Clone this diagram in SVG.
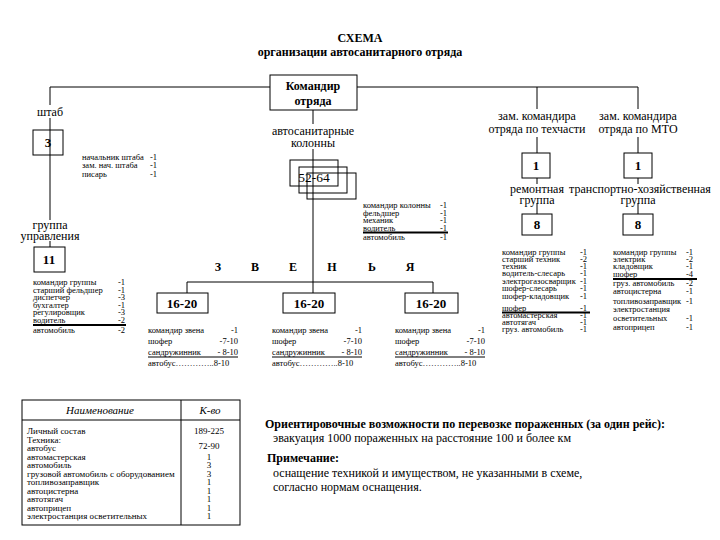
<svg xmlns="http://www.w3.org/2000/svg" width="720" height="540" viewBox="0 0 720 540" font-family="'Liberation Serif', 'DejaVu Serif', serif">
<style>
text{font-family:'Liberation Serif','DejaVu Serif',serif;fill:#000}
.b{font-weight:bold}
.h{font-size:12px}
.m{font-size:12px}
.s{font-size:8.5px}
.sv{font-size:8.5px;text-anchor:end}
.c{text-anchor:middle}
.n{font-size:13px;font-weight:bold;text-anchor:middle}
.box{fill:#fff;stroke:#000;stroke-width:1}
.ln{stroke:#000;stroke-width:1;fill:none}
.th{stroke:#000;stroke-width:2;fill:none}
.nt{font-size:12px}
</style>
<rect width="720" height="540" fill="#fff"/>
<g id="title">
<text x="360" y="42" class="b h c">СХЕМА</text>
<text x="360" y="56" class="b h c">организации автосанитарного отряда</text>
</g>
<g id="connectors">
<path class="ln" d="M50 87H270M357 87H638M50 87V105M537 87V109M638 87V109"/>
<path class="ln" d="M50 118V220M50 241V247"/>
<path class="ln" d="M313 110V124M313 149V282M187 282H433M187 282V293M313 282V293M433 282V293"/>
<path class="ln" d="M537 137V153M537 178V184M537 203V214M638 137V153M638 178V184M638 203V214"/>
</g>
<g id="commander">
<rect class="box" x="270" y="75" width="87" height="35"/>
<text x="313" y="90" class="b h c">Командир</text>
<text x="313" y="105" class="b h c">отряда</text>
</g>
<g id="staff">
<text x="50" y="116" class="m c">штаб</text>
<rect class="ln" x="33" y="130" width="30" height="25"/>
<text x="48" y="147" class="n">3</text>
<text x="82" y="160" class="s">начальник штаба</text><text x="157" y="160" class="sv">-1</text>
<text x="82" y="168" class="s">зам. нач. штаба</text><text x="157" y="168" class="sv">-1</text>
<text x="82" y="177" class="s">писарь</text><text x="157" y="177" class="sv">-1</text>
</g>
<g id="control-group">
<text x="50" y="229" class="m c">группа</text>
<text x="50" y="240" class="m c">управления</text>
<rect class="box" x="34" y="247" width="31" height="25"/>
<text x="49" y="264" class="n">11</text>
<text x="33" y="285" class="s">командир группы</text><text x="125" y="285" class="sv">-1</text>
<text x="33" y="292.5" class="s">старший фельдшер</text><text x="125" y="292.5" class="sv">-1</text>
<text x="33" y="300" class="s">диспетчер</text><text x="125" y="300" class="sv">-3</text>
<text x="33" y="307.5" class="s">бухгалтер</text><text x="125" y="307.5" class="sv">-1</text>
<text x="33" y="315" class="s">регулировщик</text><text x="125" y="315" class="sv">-3</text>
<text x="33" y="322.5" class="s">водитель</text><text x="125" y="322.5" class="sv">-2</text>
<line class="th" x1="33" y1="325" x2="126" y2="325"/>
<text x="33" y="333" class="s">автомобиль</text><text x="125" y="333" class="sv">-2</text>
</g>
<g id="columns">
<text x="313" y="135" class="m c">автосанитарные</text>
<text x="313" y="147" class="m c">колонны</text>
<rect class="ln" x="290" y="160" width="48" height="26"/>
<rect class="ln" x="299" y="167" width="48" height="26"/>
<rect class="ln" x="307" y="173" width="49" height="26"/>
<text x="314" y="182" font-size="13.5" class="c">52-64</text>
<text x="363" y="208" class="s">командир колонны</text><text x="447" y="208" class="sv">-1</text>
<text x="363" y="215.5" class="s">фельдшер</text><text x="447" y="215.5" class="sv">-1</text>
<text x="363" y="223" class="s">механик</text><text x="447" y="223" class="sv">-1</text>
<text x="363" y="230.5" class="s">водитель</text><text x="447" y="230.5" class="sv">-1</text>
<line class="th" x1="363" y1="232.5" x2="448" y2="232.5"/>
<text x="363" y="240" class="s">автомобиль</text><text x="447" y="240" class="sv">-1</text>
<g class="b h">
<text x="218" y="271" class="c">З</text><text x="255" y="271" class="c">В</text><text x="293" y="271" class="c">Е</text>
<text x="332" y="271" class="c">Н</text><text x="372" y="271" class="c">Ь</text><text x="410" y="271" class="c">Я</text>
</g>
</g>
<g id="link-1">
<rect class="box" x="157" y="293" width="51" height="20"/>
<text x="182" y="307.5" class="n">16-20</text>
<text x="148" y="333" class="s">командир звена</text><text x="238" y="333" class="sv">-1</text>
<text x="148" y="344" class="s">шофер</text><text x="238" y="344" class="sv">-7-10</text>
<text x="148" y="355" class="s">сандружинник</text><text x="238" y="355" class="sv">- 8-10</text>
<line class="ln" x1="148" y1="357" x2="238" y2="357"/>
<text x="148" y="366" class="s">автобус…………..8-10</text>
</g>
<g id="link-2">
<rect class="box" x="283" y="293" width="52" height="20"/>
<text x="309" y="307.5" class="n">16-20</text>
<text x="272" y="333" class="s">командир звена</text><text x="362" y="333" class="sv">-1</text>
<text x="272" y="344" class="s">шофер</text><text x="362" y="344" class="sv">-7-10</text>
<text x="272" y="355" class="s">сандружинник</text><text x="362" y="355" class="sv">- 8-10</text>
<line class="ln" x1="272" y1="357" x2="362" y2="357"/>
<text x="272" y="366" class="s">автобус…………..8-10</text>
</g>
<g id="link-3">
<rect class="box" x="405" y="293" width="53" height="20"/>
<text x="431" y="307.5" class="n">16-20</text>
<text x="395" y="333" class="s">командир звена</text><text x="485" y="333" class="sv">-1</text>
<text x="395" y="344" class="s">шофер</text><text x="485" y="344" class="sv">-7-10</text>
<text x="395" y="355" class="s">сандружинник</text><text x="485" y="355" class="sv">- 8-10</text>
<line class="ln" x1="395" y1="357" x2="485" y2="357"/>
<text x="395" y="366" class="s">автобус…………..8-10</text>
</g>
<g id="repair">
<text x="537" y="120" class="m c">зам. командира</text>
<text x="537" y="133" class="m c">отряда по техчасти</text>
<rect class="box" x="522" y="153" width="28" height="25"/>
<text x="536" y="170" class="n">1</text>
<text x="537" y="193" class="m c">ремонтная</text>
<text x="537" y="204" class="m c">группа</text>
<rect class="box" x="522" y="214" width="30" height="21"/>
<text x="537" y="229" class="n">8</text>
<text x="502" y="255" class="s">командир группы</text><text x="587" y="255" class="sv">-1</text>
<text x="502" y="262" class="s">старший техник</text><text x="587" y="262" class="sv">-2</text>
<text x="502" y="269" class="s">техник</text><text x="587" y="269" class="sv">-1</text>
<text x="502" y="276" class="s">водитель-слесарь</text><text x="587" y="276" class="sv">-1</text>
<text x="502" y="283.5" class="s">электрогазосварщик</text><text x="587" y="283.5" class="sv">-1</text>
<text x="502" y="291" class="s">шофер-слесарь</text><text x="587" y="291" class="sv">-1</text>
<text x="502" y="298.5" class="s">шофер-кладовщик</text><text x="587" y="298.5" class="sv">-1</text>
<text x="502" y="310.5" class="s">шофер</text><text x="587" y="310.5" class="sv">-1</text>
<line class="th" x1="502" y1="312.5" x2="590" y2="312.5"/>
<text x="502" y="318" class="s">автомастерская</text><text x="587" y="318" class="sv">-1</text>
<text x="502" y="325" class="s">автотягач</text><text x="587" y="325" class="sv">-1</text>
<text x="502" y="332" class="s">груз. автомобиль</text><text x="587" y="332" class="sv">-1</text>
</g>
<g id="transport">
<text x="638" y="120" class="m c">зам. командира</text>
<text x="638" y="133" class="m c">отряда по МТО</text>
<rect class="box" x="624" y="153" width="28" height="25"/>
<text x="638" y="170" class="n">1</text>
<text x="640" y="193" class="m c">транспортно-хозяйственная</text>
<text x="638" y="204" class="m c">группа</text>
<rect class="box" x="623" y="214" width="30" height="21"/>
<text x="638" y="229" class="n">8</text>
<text x="613" y="255" class="s">командир группы</text><text x="693" y="255" class="sv">-1</text>
<text x="613" y="262" class="s">электрик</text><text x="693" y="262" class="sv">-2</text>
<text x="613" y="269" class="s">кладовщик</text><text x="693" y="269" class="sv">-1</text>
<text x="613" y="277" class="s">шофер</text><text x="693" y="277" class="sv">-4</text>
<line class="th" x1="613" y1="279" x2="697" y2="279"/>
<text x="613" y="286" class="s">груз. автомобиль</text><text x="693" y="286" class="sv">-2</text>
<text x="613" y="293.5" class="s">автоцистерна</text><text x="693" y="293.5" class="sv">-1</text>
<text x="613" y="304" class="s">топливозаправщик</text><text x="693" y="304" class="sv">-1</text>
<text x="613" y="312" class="s">электростанция</text>
<text x="613" y="321" class="s">осветительных</text><text x="693" y="321" class="sv">-1</text>
<text x="613" y="330" class="s">автоприцеп</text><text x="693" y="330" class="sv">-1</text>
</g>
<g id="table">
<rect class="ln" x="22" y="400" width="218" height="125"/>
<line class="ln" x1="22" y1="420" x2="240" y2="420"/>
<line class="ln" x1="181" y1="400" x2="181" y2="525"/>
<text x="100" y="414" class="c" font-size="11" font-style="italic">Наименование</text>
<text x="210" y="414" class="c" font-size="11" font-style="italic">К-во</text>
<g font-size="9">
<text x="27" y="434">Личный состав</text>
<text x="27" y="442.5">Техника:</text>
<text x="27" y="451">автобус</text>
<text x="27" y="459.5">автомастерская</text>
<text x="27" y="468">автомобиль</text>
<text x="27" y="476.5">грузовой автомобиль с оборудованием</text>
<text x="27" y="485">топливозаправщик</text>
<text x="27" y="493.5">автоцистерна</text>
<text x="27" y="502">автотягач</text>
<text x="27" y="510.5">автоприцеп</text>
<text x="27" y="519">электростанция осветительных</text>
</g>
<g font-size="9" text-anchor="middle">
<text x="209" y="434">189-225</text>
<text x="209" y="449">72-90</text>
<text x="209" y="459.5">1</text>
<text x="209" y="468">3</text>
<text x="209" y="476.5">3</text>
<text x="209" y="485">1</text>
<text x="209" y="493.5">1</text>
<text x="209" y="502">1</text>
<text x="209" y="510.5">1</text>
<text x="209" y="519">1</text>
</g>
</g>
<g id="notes">
<text x="265" y="428" class="b nt">Ориентировочные возможности по перевозке пораженных (за один рейс):</text>
<text x="273" y="442" class="nt">эвакуация 1000 пораженных на расстояние 100 и более км</text>
<text x="267" y="462" class="b nt">Примечание:</text>
<text x="273" y="477" class="nt">оснащение техникой и имуществом, не указанными в схеме,</text>
<text x="273" y="491" class="nt">согласно нормам оснащения.</text>
</g>
</svg>
